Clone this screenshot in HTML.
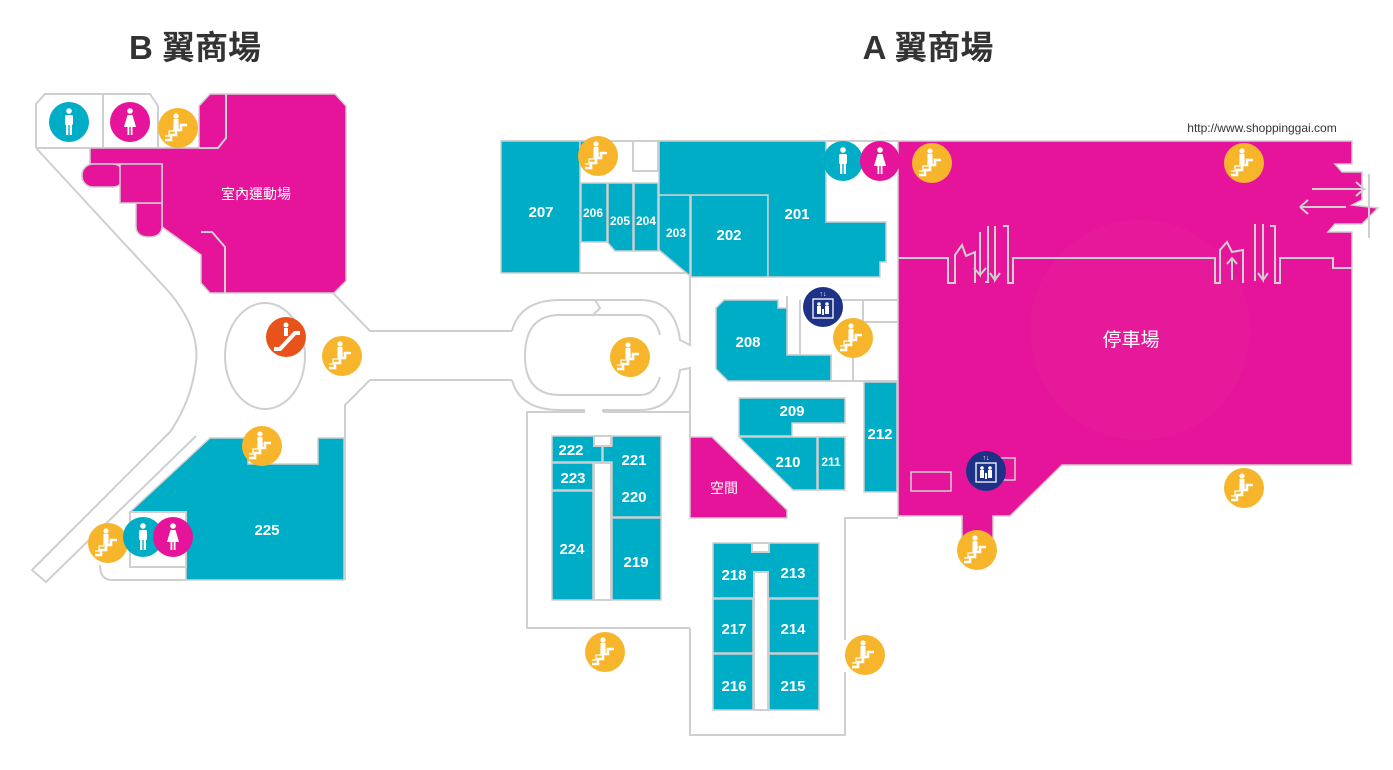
<!DOCTYPE html>
<html><head><meta charset="utf-8"><style>
html,body{margin:0;padding:0;background:#fff;}
svg{display:block;}
text{font-family:"Liberation Sans","Noto Sans CJK TC",sans-serif;}
.n{fill:#fff;font-weight:bold;font-size:15px;text-anchor:middle;}
.s{fill:#fff;font-weight:bold;font-size:12px;text-anchor:middle;}
.ln{fill:none;stroke:#cfcfcf;stroke-width:2;}
.t{fill:#00adc6;stroke:#cfcfcf;stroke-width:1.5;}
.m{fill:#e6149a;stroke:#cfcfcf;stroke-width:1.5;}
.w{fill:#fff;stroke:#cfcfcf;stroke-width:2;}
</style></head><body>
<svg width="1393" height="770" viewBox="0 0 1393 770" xmlns="http://www.w3.org/2000/svg">
<defs>
<g id="st"><circle r="20" fill="#f7b52c"/>
<circle cx="-2" cy="-12" r="2.6" fill="#fff"/><rect x="-4.5" y="-9" width="5" height="10" fill="#fff"/>
<polyline points="-13,12 -7,12 -7,7 -2,7 -2,2 3,2 3,-3 9,-3" fill="none" stroke="#fff" stroke-width="2.6"/>
<polyline points="-13,8 -9,8 -9,3 -4,3 -4,-2 1,-2" fill="none" stroke="#fff" stroke-width="1.2"/></g>
<g id="man"><circle r="20" fill="#00adc6"/><circle cy="-11" r="2.8" fill="#fff"/><rect x="-4" y="-7" width="8" height="10" rx="1.5" fill="#fff"/><rect x="-3" y="2" width="2.3" height="11" fill="#fff"/><rect x="0.7" y="2" width="2.3" height="11" fill="#fff"/></g>
<g id="wom"><circle r="20" fill="#e6149a"/><circle cy="-11" r="2.8" fill="#fff"/><polygon points="-2.5,-7 2.5,-7 6,5 -6,5" fill="#fff"/><rect x="-2.5" y="5" width="1.8" height="8" fill="#fff"/><rect x="0.7" y="5" width="1.8" height="8" fill="#fff"/></g>
<g id="el"><circle r="20" fill="#1d3287"/><rect x="-10" y="-8" width="20" height="19" fill="none" stroke="#fff" stroke-width="1.3"/>
<circle cx="-4" cy="-3" r="1.8" fill="#fff"/><rect x="-6" y="-1" width="4" height="8" fill="#fff"/><circle cx="4" cy="-3" r="1.8" fill="#fff"/><rect x="2" y="-1" width="4" height="8" fill="#fff"/><rect x="-1" y="2" width="2" height="6" fill="#fff"/>
<text x="0" y="-11" fill="#fff" font-size="7" text-anchor="middle">↑↓</text></g>
</defs>

<text x="195" y="59" font-size="33" font-weight="bold" text-anchor="middle" fill="#333">B 翼商場</text>
<text x="928" y="59" font-size="33" font-weight="bold" text-anchor="middle" fill="#333">A 翼商場</text>
<text x="1262" y="132" font-size="12" text-anchor="middle" fill="#333">http://www.shoppinggai.com</text>

<!-- B wing corridors -->
<path class="ln" d="M36,148 L170,293 Q200,330 196,362 Q192,400 170,432 L32,570 L46,582 L196,436"/>
<path class="ln" d="M36,148 L36,104 L45,94 L150,94 L158,106 L158,148"/>
<line class="ln" x1="103" y1="94" x2="103" y2="148"/>
<line class="ln" x1="36" y1="148" x2="200" y2="148"/>
<ellipse class="ln" cx="265" cy="356" rx="40" ry="53"/>
<path class="ln" d="M333,293 L370,331 L512,331"/>
<path class="ln" d="M186,580 L112,580 Q100,580 100,565"/>
<path class="ln" d="M370,380 L512,380 M370,380 L345,405 L345,580"/>
<!-- loop -->
<path class="ln" d="M512,331 Q520,300 560,300 L640,300 Q675,300 680,340 L690,345 L690,273 L635,273"/>
<path class="ln" d="M512,380 Q520,410 560,410 L584,410 L584,412 L527,412 L527,628 L690,628"/>
<path class="ln" d="M603,412 L603,410 L640,410 Q675,410 680,370 L690,368 L690,437"/>
<path class="ln" d="M560,315 L640,315 Q655,315 660,335 M660,377 Q655,395 640,395 L560,395 Q525,395 525,356 Q525,315 560,315"/>
<path class="ln" d="M595,300 L600,308 L592,316"/>
<path class="ln" d="M603,412 L690,412"/>

<!-- sports hall -->
<path class="m" d="M90,148 L199,148 L199,106 L210,94 L335,94 L346,106 L346,281 L334,293 L210,293 L201,283 L201,255 L162,227 L162,164 L90,164 Z"/>
<rect x="82" y="164" width="42" height="23" rx="11" class="m"/>
<path class="m" d="M136,203 L162,203 L162,226 Q162,237 149,237 Q136,237 136,226 Z"/>
<rect x="120" y="164" width="42" height="39" class="m"/>
<polyline class="ln" points="199,148 218,148 226,138 226,94" stroke-width="1.5"/>
<polyline class="ln" points="201,232 212,232 225,247 225,293" stroke-width="1.5"/>
<text x="256" y="199" fill="#fff" font-size="14" text-anchor="middle">室內運動場</text>

<!-- 225 -->
<path class="t" d="M210,438 L248,438 L248,464 L318,464 L318,438 L344,438 L344,580 L186,580 L186,512 L130,512 Z"/>
<rect class="w" x="130" y="512" width="56" height="55" stroke-width="1.5"/>
<text x="267" y="535" class="n">225</text>

<!-- A top block -->
<path class="ln" d="M501,141 L898,141 M580,273 L635,273"/>
<rect class="t" x="501" y="141" width="79" height="132"/>
<rect class="t" x="580" y="141" width="10" height="25"/>
<rect class="t" x="581" y="183" width="26" height="59"/>
<path class="t" d="M608,183 L633,183 L633,251 L615,251 L608,243 Z"/>
<rect class="t" x="634" y="183" width="24" height="68"/>
<path class="t" d="M659,195 L690,195 L690,276 L659,250 Z"/>
<rect class="t" x="691" y="195" width="77" height="82"/>
<path class="t" d="M659,141 L826,141 L826,222 L886,222 L886,262 L880,262 L880,277 L768,277 L768,195 L659,195 Z"/>
<rect class="w" x="633" y="141" width="25" height="30" stroke-width="1.5"/>
<text x="541" y="217" class="n">207</text>
<text x="593" y="217" class="s">206</text>
<text x="620" y="225" class="s">205</text>
<text x="646" y="225" class="s">204</text>
<text x="676" y="237" class="s">203</text>
<text x="729" y="240" class="n">202</text>
<text x="797" y="219" class="n">201</text>

<!-- parking -->
<path class="m" d="M898,141 L1352,141 L1352,164 L1335,164 L1342,172 L1362,172 L1362,200 L1352,205 L1378,208 L1362,224 L1335,224 L1328,232 L1352,232 L1352,465 L1062,465 L1010,516 L993,516 L993,538 L962,538 L962,516 L898,516 Z"/>
<circle cx="1140" cy="330" r="110" fill="#e8289f" opacity="0.25"/>
<path class="ln" stroke-width="1.5" d="M898,258 L948,258 L948,283 L955,283 L955,255 L962,245 L966,256 L975,252 L975,283 M980,232 L980,275 L974,268 M980,275 L986,268 M988,226 L988,282 L985,282 M995,226 L995,280 L1000,273 M995,280 L990,273 M1003,226 L1008,226 L1008,283 L1013,283 L1013,258 L1215,258 L1215,283 L1220,283 L1220,250 L1227,242 L1232,252 L1243,250 L1243,283 M1232,258 L1232,280 M1227,264 L1232,258 L1237,264 M1255,224 L1255,281 M1263,224 L1263,280 L1258,273 M1263,280 L1268,273 M1270,226 L1275,226 L1275,283 L1280,283 L1280,258 L1333,258 L1333,268 L1352,268"/>
<path class="ln" stroke-width="1.5" d="M1312,189 L1364,189 L1356,182 M1364,189 L1356,196 M1300,207 L1346,207 M1300,207 L1308,200 M1300,207 L1308,214 M1369,174 L1369,238"/>
<text x="1131" y="346" fill="#fff" font-size="19" text-anchor="middle">停車場</text>
<rect x="911" y="472" width="40" height="19" fill="none" stroke="#cfcfcf" stroke-width="1.5"/>
<rect x="973" y="458" width="42" height="22" fill="none" stroke="#cfcfcf" stroke-width="1.5"/>

<!-- middle right -->
<path class="ln" d="M787,296 L787,355 L800,355 L800,300 M831,300 L898,300 M863,300 L863,322 L898,322 M831,355 L831,381 M853,355 L853,381 L898,381 M760,381 L898,381"/>
<path class="t" d="M724,300 L778,300 L778,308 L787,308 L787,355 L831,355 L831,381 L728,381 L716,369 L716,308 Z"/>
<text x="748" y="347" class="n">208</text>
<path class="t" d="M739,398 L845,398 L845,423 L792,423 L792,436 L739,436 Z"/>
<path class="t" d="M739,437 L817,437 L817,490 L793,490 Z"/>
<rect class="t" x="818" y="437" width="27" height="53"/>
<rect class="t" x="864" y="382" width="33" height="110"/>
<text x="792" y="416" class="n">209</text>
<text x="788" y="467" class="n">210</text>
<text x="831" y="466" class="s">211</text>
<text x="880" y="439" class="n">212</text>
<path class="m" d="M690,437 L712,437 L787,510 L787,518 L690,518 Z"/>
<text x="724" y="493" fill="#fff" font-size="14" text-anchor="middle">空間</text>

<!-- 219-224 -->
<path class="t" d="M552,436 L594,436 L594,446 L602,446 L602,462 L552,462 Z"/>
<rect class="t" x="552" y="463" width="41" height="27"/>
<rect class="t" x="552" y="491" width="41" height="109"/>
<path class="t" d="M612,436 L661,436 L661,517 L612,517 L612,462 L603,462 L603,446 L612,446 Z"/>
<rect class="t" x="612" y="518" width="49" height="82"/>
<rect class="w" x="594" y="463" width="17" height="137" stroke-width="1.5"/>
<rect class="w" x="594" y="436" width="17" height="10" stroke-width="1.5"/>
<text x="571" y="455" class="n">222</text>
<text x="573" y="483" class="n">223</text>
<text x="572" y="554" class="n">224</text>
<text x="634" y="465" class="n">221</text>
<text x="634" y="502" class="n">220</text>
<text x="636" y="567" class="n">219</text>

<!-- 213-218 -->
<path class="ln" d="M690,628 L690,735 L845,735 L845,672 M845,640 L845,518 L898,518"/>
<rect class="t" x="713" y="543" width="106" height="55"/>
<rect class="t" x="713" y="599" width="40" height="54"/>
<rect class="t" x="713" y="654" width="40" height="56"/>
<rect class="t" x="769" y="599" width="50" height="54"/>
<rect class="t" x="769" y="654" width="50" height="56"/>
<rect class="w" x="754" y="572" width="14" height="138" stroke-width="1.5"/>
<rect class="w" x="752" y="543" width="17" height="9" stroke-width="1.5"/>
<text x="734" y="580" class="n">218</text>
<text x="793" y="578" class="n">213</text>
<text x="734" y="634" class="n">217</text>
<text x="793" y="634" class="n">214</text>
<text x="734" y="691" class="n">216</text>
<text x="793" y="691" class="n">215</text>

<!-- icons -->
<use href="#man" x="69" y="122"/><use href="#wom" x="130" y="122"/>
<use href="#st" x="178" y="128"/>
<use href="#st" x="598" y="156"/>
<use href="#man" x="843" y="161"/><use href="#wom" x="880" y="161"/>
<use href="#st" x="932" y="163"/><use href="#st" x="1244" y="163"/>
<circle cx="286" cy="337" r="20" fill="#e8531c"/>
<path d="M274,349 L280,349 L295,333 L300,333" fill="none" stroke="#fff" stroke-width="4"/>
<circle cx="286" cy="325" r="2.5" fill="#fff"/><rect x="284" y="328" width="4" height="8" fill="#fff"/>
<use href="#st" x="342" y="356"/>
<use href="#st" x="630" y="357"/>
<use href="#el" x="823" y="307"/>
<use href="#st" x="853" y="338"/>
<use href="#st" x="262" y="446"/>
<use href="#st" x="108" y="543"/>
<use href="#man" x="143" y="537"/><use href="#wom" x="173" y="537"/>
<use href="#el" x="986" y="471"/>
<use href="#st" x="1244" y="488"/>
<use href="#st" x="977" y="550"/>
<use href="#st" x="605" y="652"/>
<use href="#st" x="865" y="655"/>
</svg>
</body></html>
